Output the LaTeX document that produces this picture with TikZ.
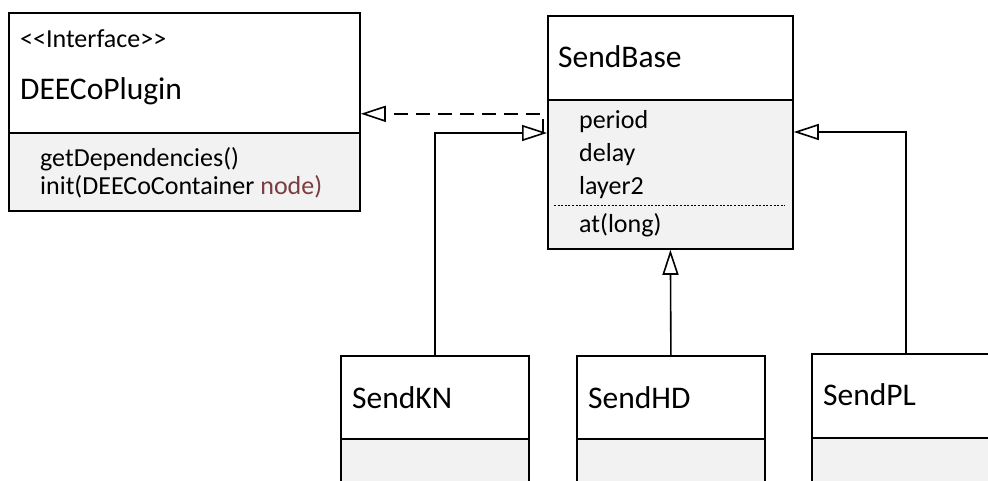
\documentclass[tikz,border=0pt]{standalone}
\usepackage{fontspec}
\setmainfont{Carlito}
\usetikzlibrary{arrows.meta,positioning,calc}
\definecolor{bodygray}{RGB}{242,242,242}
\definecolor{paramred}{RGB}{122,62,62}

\begin{document}
\begin{tikzpicture}[x=1pt,y=-1pt]
		\tikzstyle {class head} = [draw, line width=1.8pt, fill=white, inner sep=0, anchor=north west]
		\tikzstyle {class body} = [draw, line width=1.8pt, fill=bodygray, inner sep=0, anchor=north west]
		\tikzstyle {title} = [anchor=base west, inner sep=0, font=\fontsize{31.5}{32}\selectfont]
		\tikzstyle {member} = [anchor=base west, inner sep=0, font=\fontsize{26}{27}\selectfont]
		\tikzstyle {inherit} = [line width=1.6pt, -{Triangle[open, length=25pt, width=16pt]}]
		\tikzstyle {realize} = [inherit, dash pattern=on 14pt off 8pt]

		\clip (0,0) rectangle (988,481);

		% interface
		\node[class head, minimum width=351, minimum height=120] (plugin head) at (8,12) {};
		\node[class body, minimum width=351, minimum height=78] (plugin body) at (8,132) {};
		\node[member] (plugin stereo) at (20,48) {<{}<Interface>{}>};
		\node[title] (plugin name) at (20,100) {DEECoPlugin};
		\node[member] (plugin op1) at (40,167) {getDependencies()};
		\node[member] (plugin op2) at (40,195) {init(DEECoContainer \textcolor{paramred}{node)}};

		% base class
		\node[class head, minimum width=245, minimum height=84] (base head) at (547,15) {};
		\node[class body, minimum width=245, minimum height=149] (base body) at (547,99) {};
		\node[title] (base name) at (558,68) {SendBase};
		\node[member] (base attr1) at (579,129) {period};
		\node[member] (base attr2) at (579,162) {delay};
		\node[member] (base attr3) at (579,195) {layer2};
		\draw[line width=1pt, dash pattern=on 2pt off 1.6pt] (554,206) -- (785,206);
		\node[member] (base op1) at (579,233) {at(long)};

		% subclasses
		\node[class head, minimum width=188, minimum height=83] (kn head) at (340,355) {};
		\node[class body, minimum width=188, minimum height=60] (kn body) at (340,438) {};
		\node[title] (kn name) at (352,408) {SendKN};

		\node[class head, minimum width=188, minimum height=83] (hd head) at (576,355) {};
		\node[class body, minimum width=188, minimum height=60] (hd body) at (576,438) {};
		\node[title] (hd name) at (588,408) {SendHD};

		\node[class head, minimum width=188, minimum height=84] (pl head) at (811,353) {};
		\node[class body, minimum width=188, minimum height=60] (pl body) at (811,437) {};
		\node[title] (pl name) at (823,405) {SendPL};

		% connectors
		\coordinate (base kn) at ($(base body.north west)+(0,34)$);
		\coordinate (base pl) at ($(base body.north east)+(0,33)$);
		\coordinate (real start) at ($(base kn)+(-4,0)$);
		\coordinate (plugin real) at ($(plugin head.south east)+(0,-20)$);

		\draw[inherit] (kn head.north) |- (base kn);
		\draw[inherit] (hd head.north) -- (base body.south);
		\draw[inherit] (pl head.north) |- (base pl);
		\draw[realize] (real start) |- (plugin real);
\end{tikzpicture}
\end{document}
